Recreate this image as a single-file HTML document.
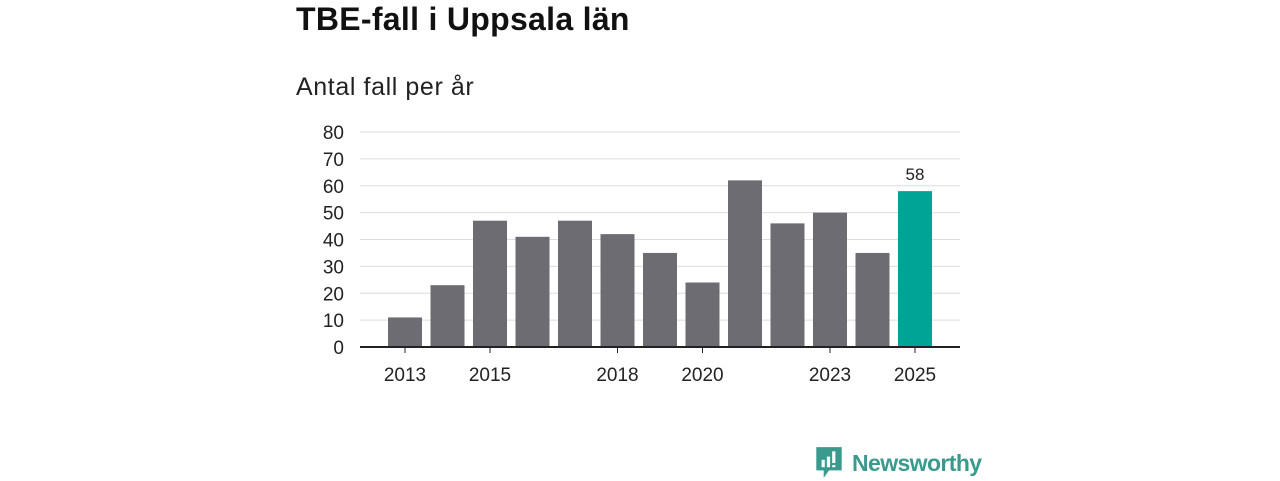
<!DOCTYPE html>
<html><head><meta charset="utf-8">
<style>
body{margin:0;width:1280px;height:480px;background:#fff;font-family:"Liberation Sans",sans-serif;overflow:hidden;position:relative}
.t{position:absolute;left:296px;top:1px;font-size:32px;font-weight:bold;color:#111;letter-spacing:0.3px}
.s{position:absolute;left:296px;top:73px;font-size:25px;color:#222;letter-spacing:0.6px}
</style></head><body>
<div class="t">TBE-fall i Uppsala län</div>
<div class="s">Antal fall per år</div>
<svg id="c" width="1280" height="480" style="position:absolute;left:0;top:0"></svg>
<script>
const years=[2013,2014,2015,2016,2017,2018,2019,2020,2021,2022,2023,2024,2025];
const cases=[11,23,47,41,47,42,35,24,62,46,50,35,58];
const yTicks=[0,10,20,30,40,50,60,70,80];
const xLabels=[2013,2015,2018,2020,2023,2025];
const NS="http://www.w3.org/2000/svg";
const svg=document.getElementById('c');
const y0=347,pxPer=(347-132)/80;
const y=v=>y0-v*pxPer;
const x=yr=>405+(yr-2013)*42.5;
function mk(t,a){const e=document.createElementNS(NS,t);for(const k in a)e.setAttribute(k,a[k]);svg.appendChild(e);return e;}
yTicks.forEach(v=>{
 if(v>0){const l=mk('line',{x1:360,x2:960,y1:y(v),y2:y(v),stroke:'#ddd','stroke-width':1});
 
 }
 const t=mk('text',{x:344,y:y(v)+7,'text-anchor':'end','font-size':19,fill:'#222','font-family':'Liberation Sans'});
 t.textContent=v;
 
 
});
years.forEach((yr,i)=>{
 const last=i===years.length-1;
 const r=mk('rect',{x:x(yr)-17,y:y(cases[i]),width:34,height:y0-y(cases[i]),fill:last?'#00a496':'#6d6c72'});
 
 
 if(last){const t=mk('text',{x:x(yr),y:y(cases[i])-11,'text-anchor':'middle','font-size':17,fill:'#222'});
 t.textContent=cases[i];
 
 }
});
const ax=mk('line',{x1:360,x2:960,y1:y0,y2:y0,stroke:'#222','stroke-width':2});


xLabels.forEach(yr=>{
 const tk=mk('line',{x1:x(yr),x2:x(yr),y1:y0,y2:y0+6,stroke:'#222','stroke-width':1});
 
 
 const t=mk('text',{x:x(yr),y:381,'text-anchor':'middle','font-size':19,fill:'#222'});
 t.textContent=yr;
 
 
});
</script>
<div style="position:absolute;left:814px;top:445px;display:flex;align-items:center">
<svg width="30" height="36" viewBox="0 0 28 34"><path d="M2 2h24v22H14l-5 7v-7H2z" fill="#3a9a8e"/><rect x="7" y="14" width="3" height="7" fill="#fff"/><rect x="12" y="11" width="3" height="10" fill="#fff"/><rect x="17" y="6" width="3" height="11" fill="#fff"/><rect x="17" y="19" width="3" height="2" fill="#fff"/></svg>
<span style="font-size:23px;color:#3a9a8e;margin-left:8px;font-weight:bold;letter-spacing:-0.6px">Newsworthy</span>
</div>
</body></html>
